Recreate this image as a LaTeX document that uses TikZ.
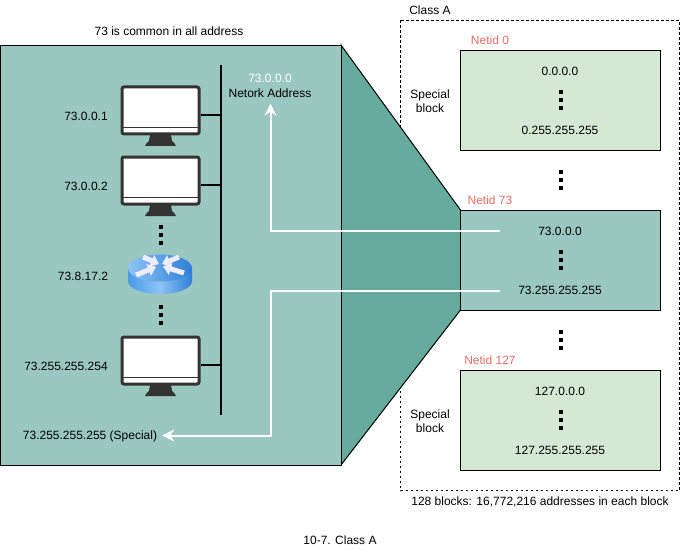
\documentclass[tikz,border=0pt]{standalone}
\usepackage{fontspec}
\setmainfont{Liberation Sans}
\usetikzlibrary{arrows.meta}
\definecolor{panel}{HTML}{9AC7BF}
\definecolor{wedge}{HTML}{67AB9F}
\definecolor{pale}{HTML}{D5E8D4}
\definecolor{netid}{HTML}{EA6B66}
\definecolor{dark}{HTML}{333333}
\definecolor{rlight}{HTML}{8CC4F5}
\definecolor{rmid}{HTML}{4A9BE8}
\definecolor{rdeep}{HTML}{2F7FD6}
\tikzset{
  x=1pt,y=-1pt,
  lbl/.style={font=\fontsize{12}{14}\selectfont,text=black,inner sep=0pt,align=center},
  netlbl/.style={lbl,text=netid},
  block/.style={draw=black,line width=1pt},
  whitearrow/.style={draw=white,line width=2pt,-{Stealth[length=12pt,width=12pt,inset=4pt]}},
  rarrow/.style={draw=white!93!blue,line width=5pt,-{Stealth[length=8pt,width=12pt,inset=0pt]}},
  dotmark/.style={fill=black,minimum size=4pt,inner sep=0pt,outer sep=0pt,rectangle},
  monitorframe/.style={draw=dark,line width=3pt,fill=white,rounded corners=2pt,minimum width=77pt,minimum height=47pt,inner sep=0pt,outer sep=1.5pt},
}
\newcommand{\dotsv}[2]{%
  \node[dotmark] at (#1,#2-8) {};
  \node[dotmark] at (#1,#2) {};
  \node[dotmark] at (#1,#2+8) {};
}
\newcommand{\monitorat}[2]{% name, top-y of outer frame
  \node[monitorframe] (#1) at (160.5,#2+24.5) {};
  \draw[draw=dark,line width=.8pt] (123,#2+41.5) -- (198,#2+41.5);
  \fill[dark] (150,#2+49) -- (171,#2+49) -- (172,#2+55) .. controls (174,#2+56) and (175,#2+58) .. (176,#2+60)
     -- (145,#2+60) .. controls (146,#2+58) and (147,#2+56) .. (149,#2+55) -- cycle;
}
\begin{document}
\begin{tikzpicture}
\useasboundingbox (0,0) rectangle (681,551);
\fill[white] (0,0) rectangle (681,551);

% dashed class box
\draw[draw=black,line width=.8pt,dash pattern=on 2.5pt off 2.5pt] (400.5,20.5) rectangle (679.5,490.5);

% wedge and panels
\draw[block,fill=wedge] (341,45) -- (460.5,210) -- (460.5,310) -- (341,465) -- cycle;
\draw[block,fill=panel] (0,45.5) rectangle (341,465.5);
\node[block,fill=pale,minimum width=200pt,minimum height=100pt,inner sep=0pt] (b0) at (560.5,100.5) {};
\node[block,fill=panel,minimum width=200pt,minimum height=100pt,inner sep=0pt] (b73) at (560.5,260.5) {};
\node[block,fill=pale,minimum width=200pt,minimum height=100pt,inner sep=0pt] (b127) at (560.5,420.5) {};

% bus
\coordinate (bustop) at (220.5,65);
\coordinate (busbot) at (220.5,415);
\draw[black,line width=2pt] (bustop) -- (busbot);

% monitors
\monitorat{m1}{86}
\monitorat{m2}{156}
\monitorat{m3}{336}
\foreach \m/\yy in {m1/115,m2/185,m3/365}
  \draw[black,line width=1.5pt] (\m.east |- 0,\yy) -- (bustop |- 0,\yy);

% router
\shade[left color=rmid,right color=rdeep,middle color=rlight]
    (128,268) -- (128,281) .. controls (128,288.5) and (142,294) .. (160,294) .. controls (178,294) and (192,288.5) .. (192,281) -- (192,268) -- cycle;
\shade[left color=rlight,right color=rdeep]
    (160,268) ellipse[x radius=32,y radius=13.5];
\draw[rarrow] (143,257) -- (159,264);
\draw[rarrow] (136,275) -- (156,267);
\draw[rarrow] (179,257) -- (162,264);
\draw[rarrow] (184,273) -- (163,266.5);
\node[inner sep=0pt,minimum width=64pt,minimum height=39pt] (router) at (160,274.5) {};

% dots
\dotsv{160.5}{235}
\dotsv{160.5}{315}
\dotsv{560.5}{100}
\dotsv{560.5}{180}
\dotsv{560.5}{260}
\dotsv{560.5}{340}
\dotsv{560.5}{420}

% white connectors
\node[lbl,text=white] (netip) at (270,78) {73.0.0.0};
\node[lbl] (netaddr) at (270,93) {Netork Address};
\node[lbl] (special) at (90,436) {73.255.255.255 (Special)};
\coordinate (w1) at (500,230.5);
\coordinate (w2) at (500,290.5);
\coordinate (w1t) at (270.5,230.5);
\coordinate (w2t) at (270.5,290.5);
\coordinate (w2b) at (270.5,435.5);
\draw[whitearrow] (w1) -- (w1t) -- ([yshift=-6pt]netaddr.south -| w1t);
\draw[whitearrow] (w2) -- (w2t) -- (w2b) -- ([xshift=5pt]special.east |- w2b);

% labels
\node[lbl] (common) at (169,31) {73 is common in all address};
\node[lbl] (l1) at (86,116) {73.0.0.1};
\node[lbl] (l2) at (86,186) {73.0.0.2};
\node[lbl] (l3) at (83,276) {73.8.17.2};
\node[lbl] (l4) at (66,366) {73.255.255.254};
\node[lbl] (classa) at (430,10) {Class A};
\node[netlbl] (n0) at (490,40.5) {Netid 0};
\node[netlbl] (n73) at (490,200.5) {Netid 73};
\node[netlbl] (n127) at (490,360.5) {Netid 127};
\node[lbl] (s1) at (430,101) {Special\\[0pt]block};
\node[lbl] (s2) at (430,421) {Special\\[0pt]block};
\node[lbl] (a1) at (560,71) {0.0.0.0};
\node[lbl] (a2) at (560,130.5) {0.255.255.255};
\node[lbl] (a3) at (560,231) {73.0.0.0};
\node[lbl] (a4) at (560,290.5) {73.255.255.255};
\node[lbl] (a5) at (560,391) {127.0.0.0};
\node[lbl] (a6) at (560,450.5) {127.255.255.255};
\node[lbl] (foot) at (540,502) {128 blocks: 16,772,216 addresses in each block};
\node[lbl] (cap) at (340,540) {10-7. Class A};
\end{tikzpicture}
\end{document}
